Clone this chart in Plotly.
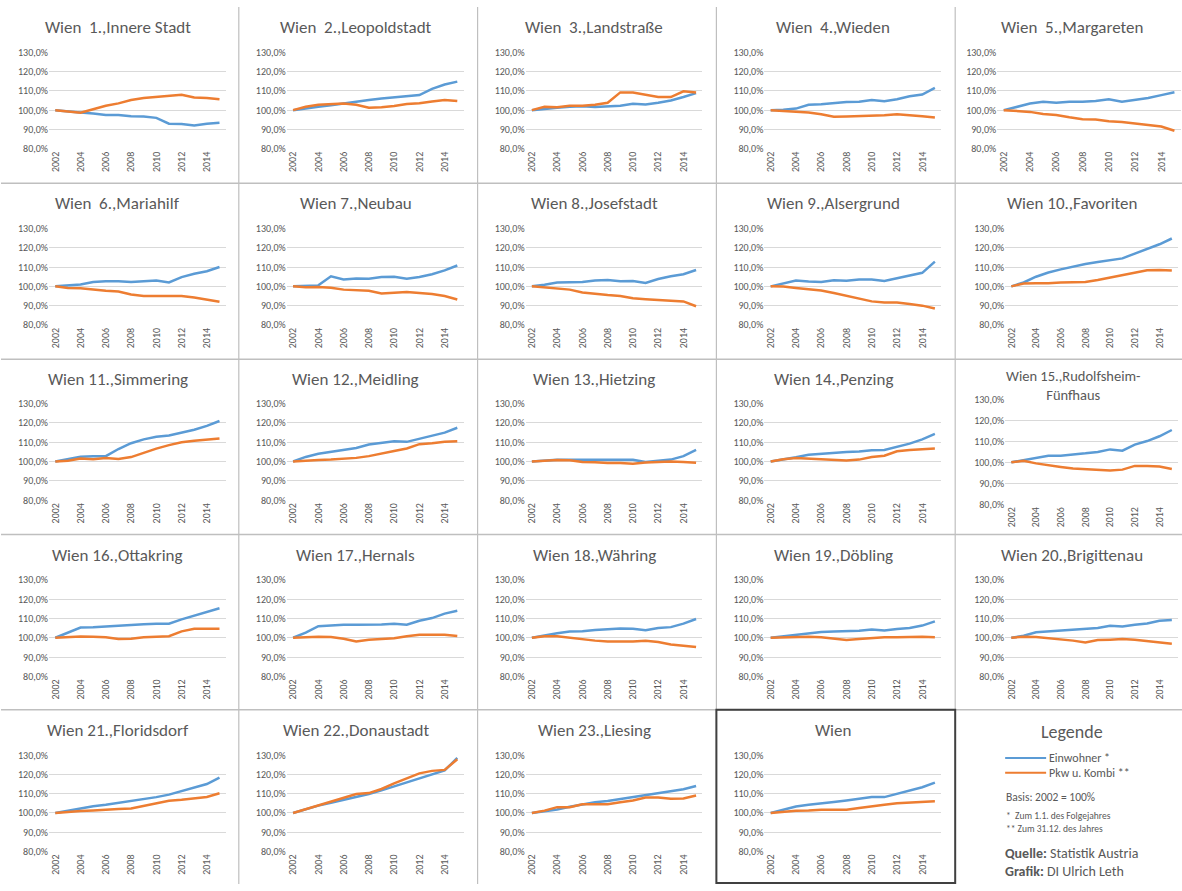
import plotly.graph_objects as go

W, H = 1182, 891

years = list(range(2002, 2016))

titles = [
    "Wien\u00a0 1.,Innere Stadt", "Wien\u00a0 2.,Leopoldstadt", "Wien\u00a0 3.,Landstraße",
    "Wien\u00a0 4.,Wieden", "Wien\u00a0 5.,Margareten",
    "Wien\u00a0 6.,Mariahilf", "Wien 7.,Neubau", "Wien 8.,Josefstadt", "Wien 9.,Alsergrund",
    "Wien 10.,Favoriten",
    "Wien 11.,Simmering", "Wien 12.,Meidling", "Wien 13.,Hietzing", "Wien 14.,Penzing",
    "Wien 15.,Rudolfsheim-<br>Fünfhaus",
    "Wien 16.,Ottakring", "Wien 17.,Hernals", "Wien 18.,Währing", "Wien 19.,Döbling",
    "Wien 20.,Brigittenau",
    "Wien 21.,Floridsdorf", "Wien 22.,Donaustadt", "Wien 23.,Liesing", "Wien",
]

einwohner = [
    [100, 99.3, 98.8, 98.3, 97.5, 97.5, 96.8, 96.7, 96.0, 93.0, 92.8, 92.0, 93.0, 93.5],
    [100, 101.0, 101.8, 102.5, 103.5, 104.5, 105.3, 106.0, 106.7, 107.4, 107.8, 111.0, 113.3, 114.8],
    [100, 100.8, 101.3, 101.8, 102.0, 101.6, 101.8, 102.3, 103.3, 102.9, 103.8, 105.0, 106.8, 108.8],
    [100, 100.2, 100.8, 102.8, 103.0, 103.6, 104.2, 104.4, 105.3, 104.6, 105.7, 107.2, 108.1, 111.5],
    [100, 101.8, 103.4, 104.4, 103.9, 104.4, 104.4, 104.8, 105.7, 104.4, 105.3, 106.3, 107.8, 109.3],
    [100, 100.5, 101.0, 102.2, 102.6, 102.6, 102.2, 102.7, 103.0, 102.0, 104.8, 106.5, 107.8, 110.0],
    [100, 100.2, 100.5, 105.2, 103.5, 104.1, 103.9, 104.8, 105.0, 104.0, 104.8, 106.3, 108.3, 110.8],
    [100, 100.8, 102.0, 102.0, 102.2, 103.0, 103.3, 102.6, 102.8, 101.8, 103.8, 105.2, 106.3, 108.5],
    [100, 101.6, 103.0, 102.5, 102.3, 103.2, 102.9, 103.5, 103.5, 102.8, 104.3, 105.8, 107.0, 112.8],
    [100, 102.0, 105.0, 107.2, 108.8, 110.2, 111.6, 112.6, 113.6, 114.5, 117.0, 119.5, 121.8, 124.8],
    [100, 101.2, 102.5, 102.8, 102.8, 106.5, 109.5, 111.5, 112.8, 113.5, 115.0, 116.5, 118.5, 121.0],
    [100, 102.4, 104.0, 105.0, 106.0, 107.0, 108.8, 109.6, 110.5, 110.2, 111.8, 113.3, 115.0, 117.5],
    [100, 100.5, 100.9, 100.9, 100.9, 100.9, 100.7, 100.9, 100.9, 99.8, 100.3, 101.0, 102.8, 106.0],
    [100, 101.0, 102.2, 103.5, 104.0, 104.6, 105.0, 105.2, 105.8, 106.0, 107.5, 109.3, 111.5, 114.3],
    [100, 101.0, 102.0, 103.2, 103.2, 103.6, 104.3, 105.0, 106.2, 105.6, 108.5, 110.2, 112.5, 115.5],
    [100, 102.5, 105.3, 105.4, 105.8, 106.3, 106.8, 107.0, 107.2, 107.3, 109.5, 111.5, 113.3, 115.3],
    [100, 102.6, 106.0, 106.5, 106.7, 106.7, 106.7, 106.8, 107.2, 106.7, 108.8, 110.2, 112.5, 114.0],
    [100, 101.2, 102.3, 103.2, 103.4, 104.0, 104.5, 104.8, 104.7, 103.9, 105.0, 105.5, 107.3, 109.7],
    [100, 100.8, 101.6, 102.3, 103.0, 103.2, 103.4, 103.6, 104.2, 103.7, 104.5, 105.0, 106.3, 108.5],
    [100, 101.0, 102.8, 103.3, 103.8, 104.0, 104.6, 105.0, 106.2, 105.8, 106.7, 107.4, 108.8, 109.2],
    [100, 101.2, 102.3, 103.5, 104.2, 105.2, 106.0, 107.0, 108.2, 109.5, 111.2, 113.0, 115.0, 118.3],
    [100, 102.0, 103.8, 105.3, 106.8, 108.3, 109.8, 111.7, 113.7, 115.7, 117.7, 119.7, 122.0, 128.5],
    [100, 100.8, 101.8, 103.2, 104.5, 105.5, 106.2, 107.2, 108.5, 109.5, 110.5, 111.3, 112.3, 114.0],
    [100, 101.5, 103.3, 104.2, 104.8, 105.7, 106.5, 107.2, 108.2, 108.2, 110.0, 111.5, 113.3, 115.7],
]

pkw = [
    [100, 99.5, 98.7, 100.5, 102.3, 103.5, 105.3, 106.3, 106.8, 107.3, 108.0, 106.6, 106.3, 105.6],
    [100, 101.8, 102.8, 103.2, 103.4, 102.8, 101.2, 101.5, 102.1, 103.2, 103.6, 104.5, 105.3, 104.7],
    [100, 101.7, 101.5, 102.3, 102.3, 102.8, 103.8, 109.2, 109.1, 107.8, 106.8, 106.8, 109.8, 109.1],
    [100, 99.5, 99.2, 98.8, 97.9, 96.6, 96.7, 96.9, 97.1, 97.3, 97.9, 97.5, 96.8, 96.2],
    [100, 99.6, 99.1, 98.0, 97.5, 96.3, 95.3, 95.2, 94.3, 93.8, 93.2, 92.3, 91.5, 89.3],
    [100, 99.2, 99.0, 98.3, 97.7, 97.3, 95.8, 95.0, 95.0, 95.0, 95.0, 94.2, 93.0, 92.0],
    [100, 99.5, 99.6, 99.3, 98.3, 98.0, 97.7, 96.3, 96.5, 97.0, 96.6, 96.0, 95.0, 93.2],
    [100, 99.5, 98.8, 98.3, 96.8, 96.0, 95.5, 95.0, 93.8, 93.3, 93.0, 92.5, 92.2, 89.7],
    [100, 99.9, 99.2, 98.6, 97.8, 96.5, 95.0, 93.5, 92.2, 91.6, 91.6, 90.8, 90.0, 88.5],
    [100, 101.5, 101.6, 101.6, 102.0, 102.2, 102.2, 103.3, 104.5, 106.0, 107.0, 108.3, 108.5, 108.2],
    [100, 100.4, 101.6, 101.2, 101.8, 101.3, 102.3, 104.5, 106.7, 108.5, 110.0, 110.8, 111.5, 112.0],
    [100, 100.5, 100.8, 101.0, 101.5, 101.9, 102.8, 104.3, 105.5, 106.8, 109.0, 109.5, 110.2, 110.5],
    [100, 100.3, 100.8, 100.7, 99.8, 99.6, 99.2, 99.2, 98.9, 99.5, 99.8, 100.0, 99.8, 99.4],
    [100, 101.2, 101.8, 101.5, 101.2, 100.8, 100.5, 101.0, 102.3, 103.0, 105.3, 106.0, 106.3, 106.8],
    [100, 100.8, 99.5, 98.5, 97.8, 97.0, 96.6, 96.3, 96.1, 96.5, 98.3, 98.3, 98.0, 96.8],
    [100, 100.5, 100.7, 100.5, 100.2, 99.3, 99.5, 100.2, 100.5, 100.8, 103.3, 104.6, 104.6, 104.7],
    [100, 100.4, 100.5, 100.4, 99.5, 98.0, 99.0, 99.3, 99.7, 100.8, 101.5, 101.5, 101.5, 100.9],
    [100, 100.8, 100.8, 100.0, 99.2, 98.5, 98.0, 97.9, 98.0, 98.4, 97.8, 96.5, 95.8, 95.2],
    [100, 100.2, 100.5, 100.5, 100.2, 99.4, 98.8, 99.3, 99.9, 100.3, 100.3, 100.5, 100.5, 100.2],
    [100, 100.5, 100.4, 99.8, 99.0, 98.5, 97.6, 98.8, 99.0, 99.3, 99.0, 98.3, 97.5, 96.9],
    [100, 100.6, 101.0, 101.3, 101.8, 102.0, 102.3, 103.5, 104.8, 106.3, 106.8, 107.6, 108.3, 110.2],
    [100, 102.0, 104.0, 105.8, 107.8, 109.8, 110.3, 112.4, 115.3, 118.0, 120.5, 121.8, 122.3, 127.8],
    [100, 101.2, 103.0, 103.0, 104.5, 104.5, 104.5, 105.5, 106.5, 108.0, 108.0, 107.3, 107.5, 109.0],
    [100, 100.6, 101.1, 101.2, 101.6, 101.6, 101.6, 102.5, 103.5, 104.3, 105.0, 105.3, 105.5, 106.0],
]

y_ticks = [80, 90, 100, 110, 120, 130]
y_ticktext = ["80,0%", "90,0%", "100,0%", "110,0%", "120,0%", "130,0%"]
x_ticks = [2002, 2004, 2006, 2008, 2010, 2012, 2014]

BLUE = "#5B9BD5"
ORANGE = "#ED7D31"
GRAY = "#595959"
FONT = "Carlito, 'Liberation Sans Narrow', 'Open Sans', sans-serif"
TFONT = "Carlito, Lato, 'Open Sans', sans-serif"

COL_L = [0, 238, 477, 716, 955]
ROW_T = [0, 179, 357, 536, 714]


def fx(px):
    return px / W


def fy(py):
    return 1 - py / H


fig = go.Figure()
layout = dict(
    width=W, height=H, margin=dict(l=0, r=0, t=0, b=0, pad=0),
    paper_bgcolor="white", plot_bgcolor="white", showlegend=False,
    font=dict(family=FONT, color=GRAY),
)
annotations = []
shapes = []

for k in range(24):
    r, c = divmod(k, 5)
    L, T = COL_L[c], ROW_T[r]
    if c == 4:
        x0, x1 = 1005, 1178
    else:
        x0, x1 = L + 48, L + 225
    if k == 4:
        x0, x1 = 997, 1181
    y130, y80 = T + 46, T + 144
    if k == 14:
        y130, y80 = T + 42, T + 148
    n = k + 1
    xa = "xaxis" if n == 1 else f"xaxis{n}"
    ya = "yaxis" if n == 1 else f"yaxis{n}"
    xr = "x" if n == 1 else f"x{n}"
    yr = "y" if n == 1 else f"y{n}"
    layout[xa] = dict(
        domain=[fx(x0), fx(x1)], anchor=yr, range=[2001.5, 2015.5],
        tickvals=x_ticks, tickangle=-90, showgrid=False, zeroline=False,
        showline=False, ticks="", tickfont=dict(size=10, color=GRAY, family=FONT),
        fixedrange=True,
    )
    layout[ya] = dict(
        domain=[fy(y80), fy(y130)], anchor=xr, range=[80, 130],
        tickvals=y_ticks, ticktext=y_ticktext, showgrid=True, gridcolor="#D9D9D9",
        gridwidth=1, zeroline=False, showline=False, ticks="",
        tickfont=dict(size=10, color=GRAY, family=FONT), fixedrange=True,
    )
    fig.add_trace(go.Scatter(x=years, y=einwohner[k], mode="lines",
                             line=dict(color=BLUE, width=2.5), xaxis=xr, yaxis=yr,
                             name="Einwohner *"))
    fig.add_trace(go.Scatter(x=years, y=pkw[k], mode="lines",
                             line=dict(color=ORANGE, width=2.5), xaxis=xr, yaxis=yr,
                             name="Pkw u. Kombi **"))
    if k == 14:
        annotations.append(dict(text=titles[k], x=fx(1073), y=fy(T + 28), xref="paper",
                                yref="paper", xanchor="center", yanchor="middle",
                                showarrow=False,
                                font=dict(size=14.5, color=GRAY, family=TFONT)))
    else:
        annotations.append(dict(text=titles[k], x=fx(L + 117), y=fy(T + 21), xref="paper",
                                yref="paper", xanchor="center", yanchor="middle",
                                showarrow=False,
                                font=dict(size=17, color=GRAY, family=TFONT)))

# separators
for xv in [238, 477, 716]:
    shapes.append(dict(type="line", xref="paper", yref="paper", x0=fx(xv), x1=fx(xv),
                       y0=0, y1=1, line=dict(color="#BFBFBF", width=1.2)))
shapes.append(dict(type="line", xref="paper", yref="paper", x0=fx(955), x1=fx(955),
                   y0=fy(714), y1=1, line=dict(color="#BFBFBF", width=1.2)))
for yv in [179, 358, 536, 714]:
    shapes.append(dict(type="line", xref="paper", yref="paper", x0=0, x1=1,
                       y0=fy(yv), y1=fy(yv), line=dict(color="#BFBFBF", width=1.5)))
# Wien box
shapes.append(dict(type="rect", xref="paper", yref="paper", x0=fx(716), x1=fx(955),
                   y0=fy(890), y1=fy(714), line=dict(color="#404040", width=2)))

# legend panel
annotations.append(dict(text="Legende", x=fx(1072), y=fy(737), xref="paper", yref="paper",
                        xanchor="center", yanchor="middle",
                        showarrow=False, font=dict(size=18, color=GRAY, family=TFONT)))
shapes.append(dict(type="line", xref="paper", yref="paper", x0=fx(1005), x1=fx(1046),
                   y0=fy(763), y1=fy(763), line=dict(color=BLUE, width=2)))
shapes.append(dict(type="line", xref="paper", yref="paper", x0=fx(1005), x1=fx(1046),
                   y0=fy(778), y1=fy(778), line=dict(color=ORANGE, width=2)))
legend_texts = [
    ("Einwohner *", 1047, 763, 12),
    ("Pkw u. Kombi **", 1047, 778, 12),
    ("Basis: 2002 = 100%", 1004, 803, 11.5),
    ("*\u00a0 Zum 1.1. des Folgejahres", 1004, 822, 9.5),
    ("** Zum 31.12. des Jahres", 1004, 835, 9.5),
    ("<b>Quelle:</b> Statistik Austria", 1003, 860, 14),
    ("<b>Grafik:</b> DI Ulrich Leth", 1003, 878, 14),
]
for txt, xx, yy, sz in legend_texts:
    annotations.append(dict(text=txt, x=fx(xx), y=fy(yy), xref="paper", yref="paper",
                            xanchor="left", yanchor="middle", showarrow=False,
                            font=dict(size=sz, color=GRAY, family=TFONT)))

layout["annotations"] = annotations
layout["shapes"] = shapes
fig.update_layout(**layout)
fig.write_html("out.html",
               post_script="document.body.style.margin='0';document.body.style.padding='0';")
